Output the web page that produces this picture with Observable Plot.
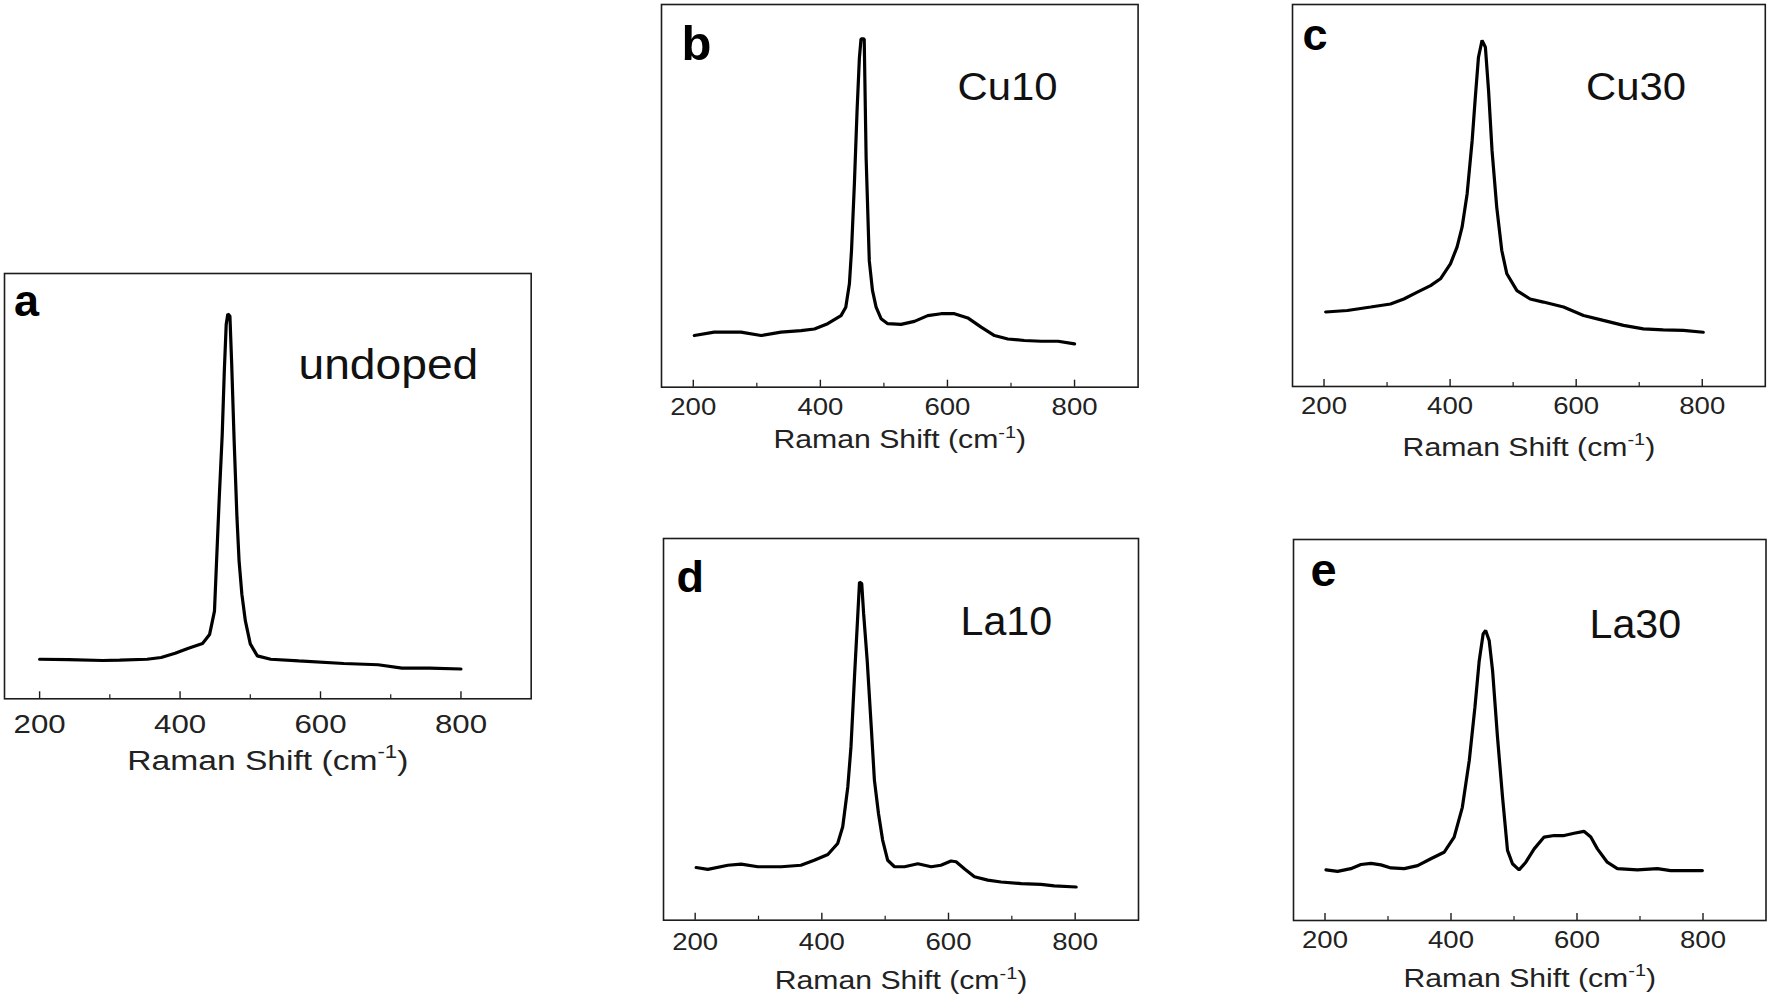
<!DOCTYPE html>
<html><head><meta charset="utf-8">
<script src="https://cdn.jsdelivr.net/npm/d3@7"></script>
<script src="https://cdn.jsdelivr.net/npm/@observablehq/plot@0.6"></script>
<style>
html,body{margin:0;padding:0;background:#fff;}
#root{position:relative;width:1770px;height:1004px;overflow:hidden;background:#fff;}
#root svg{position:absolute;overflow:visible;}
</style></head>
<body><div id="root"></div>
<script>
// ---- data (Raman shift in cm-1, intensity in arbitrary units, 0–100 of the panel height) ----
const majorTicks = [200, 400, 600, 800];
const minorTicks = [300, 500, 700];
const axisTitle = "Raman Shift (cm-1)";

const undopedShift = [200, 241, 290, 314, 353, 373, 393, 412, 432, 442, 449, 452, 456, 460, 463, 465.7, 468, 471, 473.5, 477, 481, 484, 488, 493, 500, 510, 529, 569, 633, 682, 716, 755, 800];
const undopedInt   = [9.3, 9.2, 9.0, 9.1, 9.3, 9.7, 10.7, 11.9, 13.0, 15.1, 20.6, 32.4, 48, 62, 77, 88, 90.5, 90, 78.8, 60.7, 42.7, 32.5, 24.6, 18.3, 12.9, 10.1, 9.3, 8.9, 8.3, 8.0, 7.2, 7.2, 7.0];

const cu10Shift = [201.6, 233, 275, 306.6, 338, 369.6, 390.6, 411.5, 432.5, 440, 445.7, 449, 453.5, 457.7, 461.4, 464, 469, 472, 477, 482, 487.7, 495.5, 506, 527, 548, 569, 590, 611, 632, 653, 674, 695, 721, 747.5, 774, 800];
const cu10Int   = [13.5, 14.4, 14.4, 13.5, 14.4, 14.8, 15.2, 16.6, 18.7, 20.9, 27, 35.7, 53, 72, 86, 91, 91, 60, 33, 25.3, 20.9, 17.9, 16.6, 16.4, 17.2, 18.7, 19.2, 19.2, 18.1, 15.7, 13.5, 12.6, 12.2, 12.0, 12.0, 11.3];

const cu30Shift = [202.6, 237, 274, 305.5, 326.6, 348, 369, 384.7, 400.5, 411, 419, 427, 435, 440, 445, 450.7, 456, 461, 466.5, 474, 482, 490, 506, 527, 548, 580, 611.6, 643, 675, 706.6, 738, 770, 801.6];
const cu30Int   = [19.5, 19.9, 20.8, 21.6, 22.9, 24.7, 26.4, 28.2, 32.1, 36.5, 41.7, 50.4, 64.4, 75.7, 86.2, 90.6, 88.8, 77.5, 61.8, 46.9, 35.6, 29.5, 25.1, 22.9, 22.1, 20.8, 18.6, 17.3, 16.0, 15.1, 14.8, 14.7, 14.2];

const la10Shift = [201.6, 220, 251.6, 272.6, 299, 335.8, 367, 388, 409.5, 425, 433, 441, 446, 451.6, 455.8, 459.5, 463, 466, 471.6, 478, 483, 489.5, 496, 504, 514.7, 530.5, 551.6, 572.6, 588, 604, 612, 625, 641, 662, 683, 715, 746, 767, 801.6];
const la10Int   = [13.8, 13.3, 14.4, 14.7, 14.0, 14.0, 14.4, 15.7, 17.2, 20.1, 24.5, 34.9, 45.4, 63.8, 76.9, 88.6, 88.2, 80.3, 68.1, 50.7, 36.7, 27.9, 21, 15.7, 14.0, 14.0, 14.8, 14.0, 14.4, 15.5, 15.3, 13.5, 11.4, 10.5, 10.0, 9.6, 9.4, 9.0, 8.7];

const la30Shift = [201.6, 220, 241, 257, 273, 288.8, 304.7, 325.8, 347, 368, 389, 405, 418, 429, 438, 444.8, 451, 455, 460.6, 466, 473.8, 481.8, 489.7, 497.6, 508, 518.8, 532, 547.8, 563.7, 579.6, 595.4, 611, 621.9, 632.4, 648, 664, 695.9, 727.6, 748.7, 799];
const la30Int   = [13.3, 12.9, 13.6, 14.7, 15.0, 14.6, 13.8, 13.6, 14.4, 16.2, 17.9, 21.9, 29.7, 42, 56, 68.2, 75.2, 76.1, 73.5, 65.6, 48.1, 32.4, 18.4, 14.9, 13.3, 15.3, 18.8, 21.9, 22.3, 22.3, 22.9, 23.4, 21.9, 18.8, 15.3, 13.6, 13.3, 13.6, 13.1, 13.1];

const panelLetters = ["a", "b", "c", "d", "e"];
const sampleNames  = ["undoped", "Cu10", "Cu30", "La10", "La30"];

// ---- layout of each panel's frame on the page ----
const panels = [
  {L: 4.2,   T: 272.7, R: 530.9,  B: 698,   xs: undopedShift, ys: undopedInt,
   tickFont: 25, tickSx: 1.25, tickPad: 16, titleFont: 28, titleSx: 1.2, titleDy: 62,
   letterFont: 45, letterDx: 9.5, letterDy: 42.3, nameFont: 42, nameSx: 1.1, nameDx: 294, nameDy: 105.6},
  {L: 660.7, T: 4,     R: 1137.3, B: 386.7, xs: cu10Shift, ys: cu10Int,
   tickFont: 24.4, tickSx: 1.13, tickPad: 10, titleFont: 25.6, titleSx: 1.18, titleDy: 53,
   letterFont: 49, letterDx: 20, letterDy: 55.5, nameFont: 39.5, nameSx: 1.06, nameDx: 296, nameDy: 96},
  {L: 1292.2, T: 4,    R: 1765,   B: 386,   xs: cu30Shift, ys: cu30Int,
   tickFont: 24.4, tickSx: 1.13, tickPad: 10, titleFont: 25.6, titleSx: 1.18, titleDy: 61,
   letterFont: 45, letterDx: 10, letterDy: 46, nameFont: 39.5, nameSx: 1.06, nameDx: 293.5, nameDy: 96},
  {L: 662.5, T: 538.3, R: 1137.5, B: 920,   xs: la10Shift, ys: la10Int,
   tickFont: 24.4, tickSx: 1.13, tickPad: 12, titleFont: 25.6, titleSx: 1.18, titleDy: 61,
   letterFont: 45, letterDx: 13, letterDy: 54, nameFont: 40, nameSx: 1.03, nameDx: 297, nameDy: 97},
  {L: 1292.5, T: 539,  R: 1765,   B: 920,   xs: la30Shift, ys: la30Int,
   tickFont: 24.4, tickSx: 1.13, tickPad: 10, titleFont: 25.6, titleSx: 1.18, titleDy: 58,
   letterFont: 47, letterDx: 17, letterDy: 46, nameFont: 40, nameSx: 1.03, nameDx: 296, nameDy: 98}
];

const FONT = "'Liberation Sans', Arial, Helvetica, sans-serif";
const root = document.getElementById("root");
const ml = 10, mr = 10, mt = 10, mb = 100;
const NS = "http://www.w3.org/2000/svg";

function stretch(t, sx) {
  const tr = t.getAttribute("transform") || "";
  t.setAttribute("transform", tr + ` scale(${sx},1)`);
}

panels.forEach((p, i) => {
  const w = p.R - p.L, h = p.B - p.T;
  const data = p.xs.map((x, j) => ({shift: x, intensity: p.ys[j]}));
  const chart = Plot.plot({
    width: w + ml + mr, height: h + mt + mb,
    marginLeft: ml, marginRight: mr, marginTop: mt, marginBottom: mb,
    x: {domain: [150, 900]},
    y: {domain: [0, 100], axis: null},
    style: {fontFamily: FONT, background: "transparent", color: "#222", overflow: "visible"},
    marks: [
      Plot.frame({stroke: "#1c1c1c", strokeWidth: 1.6}),
      Plot.ruleX(majorTicks, {insetTop: h - 7, stroke: "#1c1c1c", strokeWidth: 1.4}),
      Plot.ruleX(minorTicks, {insetTop: h - 4, stroke: "#1c1c1c", strokeWidth: 1.2}),
      Plot.axisX(majorTicks, {tickSize: 0, tickPadding: p.tickPad, fontSize: p.tickFont, fill: "#222", label: null}),
      Plot.line(data, {x: "shift", y: "intensity", stroke: "#000", strokeWidth: 3.2, strokeLinejoin: "miter"}),
      Plot.text([panelLetters[i]], {frameAnchor: "top-left", dx: p.letterDx, dy: p.letterDy, textAnchor: "start", lineAnchor: "bottom", fontSize: p.letterFont, fontWeight: "bold", fill: "#000"}),
      Plot.text([sampleNames[i]], {frameAnchor: "top-left", dx: p.nameDx, dy: p.nameDy, textAnchor: "start", lineAnchor: "bottom", fontSize: p.nameFont, fill: "#111"}),
      Plot.text([axisTitle], {frameAnchor: "bottom", dy: p.titleDy, lineAnchor: "middle", fontSize: p.titleFont, fill: "#222"})
    ]
  });
  chart.style.left = (p.L - ml) + "px";
  chart.style.top = (p.T - mt) + "px";
  root.appendChild(chart);

  chart.querySelectorAll('[aria-label="x-axis tick label"] text').forEach(t => stretch(t, p.tickSx));
  chart.querySelectorAll("text").forEach(t => {
    if (t.textContent === sampleNames[i]) stretch(t, p.nameSx);
    if (t.textContent === axisTitle) {
      while (t.firstChild) t.removeChild(t.firstChild);
      t.appendChild(document.createTextNode("Raman Shift (cm"));
      const sup = document.createElementNS(NS, "tspan");
      sup.setAttribute("dy", (-0.42 * p.titleFont).toFixed(1));
      sup.setAttribute("font-size", (0.66 * p.titleFont).toFixed(1));
      sup.textContent = "-1";
      t.appendChild(sup);
      const close = document.createElementNS(NS, "tspan");
      close.setAttribute("dy", (0.42 * p.titleFont).toFixed(1));
      close.textContent = ")";
      t.appendChild(close);
      stretch(t, p.titleSx);
    }
  });
});
</script>
</body></html>
